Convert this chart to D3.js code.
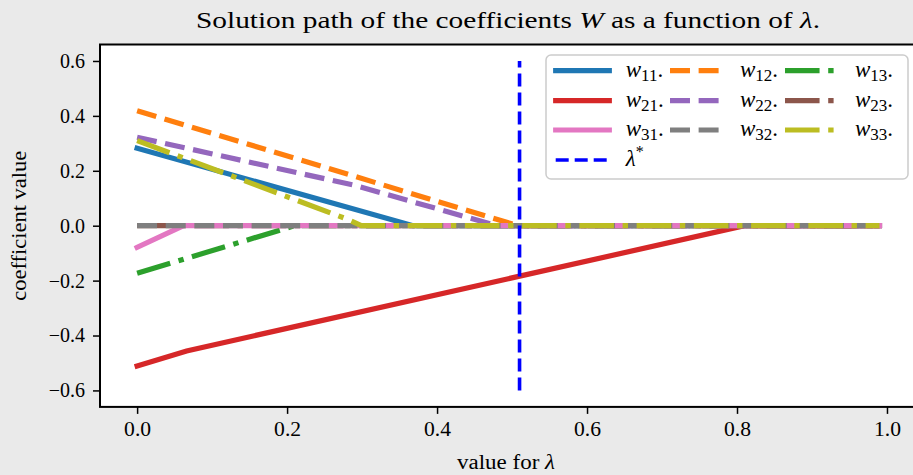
<!DOCTYPE html>
<html>
<head>
<meta charset="utf-8">
<script src="https://cdn.jsdelivr.net/npm/d3@7"></script>
<style>
  html, body { margin: 0; padding: 0; background: #eaeaea; }
  svg text { font-family: "Liberation Serif", "DejaVu Serif", serif; fill: #000; }
</style>
</head>
<body>
<svg id="chart" width="913" height="475"></svg>
<script>
// ---- data ----
const lambdaStar = 0.51;
const lambdaStarRange = [-0.6, 0.6];
const w11 = [[0, 0.282], [0.368, 0], [0.99, 0]];
const w12 = [[0, 0.419], [0.508, 0], [0.99, 0]];
const w13 = [[0, -0.173], [0.21, 0], [0.99, 0]];
const w21 = [[0, -0.511], [0.066, -0.456], [0.81, 0], [0.99, 0]];
const w22 = [[0, 0.322], [0.29, 0.147], [0.48, 0], [0.99, 0]];
const w23 = [[0, 0], [0.99, 0]];
const w31 = [[0, -0.079], [0.062, 0], [0.99, 0]];
const w32 = [[0, 0], [0.99, 0]];
const w33 = [[0, 0.31], [0.281, 0.023], [0.299, 0], [0.99, 0]];
const xTicks = [0.0, 0.2, 0.4, 0.6, 0.8, 1.0];
const yTicks = [-0.6, -0.4, -0.2, 0.0, 0.2, 0.4, 0.6];
const seriesNames = ["11", "12", "13", "21", "22", "23", "31", "32", "33"];
const seriesData = [w11, w12, w13, w21, w22, w23, w31, w32, w33];
const colors = ["#1f77b4", "#ff7f0e", "#2ca02c", "#d62728", "#9467bd", "#8c564b", "#e377c2", "#7f7f7f", "#bcbd22"];
const styles = ["solid", "dashed", "dashdot"];

// ---- layout ----
const svg = d3.select("#chart");
const L = 100, R = 916.6, T = 44.5, B = 406.9;
const x = d3.scaleLinear().domain([-0.0495, 1.0395]).range([L, R]);
const y = d3.scaleLinear().domain([-0.66, 0.66]).range([B, T]);
const lw = 5.2, ds = 5.4;
const dashFor = s => s === "dashed" ? `${3.7*ds},${1.6*ds}` : s === "dashdot" ? `${6.4*ds},${1.6*ds},${1*ds},${1.6*ds}` : null;

svg.append("rect").attr("x", L).attr("y", T).attr("width", R - L).attr("height", B - T).attr("fill", "#fff");

const g = svg.append("g");
const line = d3.line().x(d => x(d[0])).y(d => y(d[1]));
seriesData.forEach((data, i) => {
  const st = styles[i % 3];
  g.append("path").datum(data)
    .attr("d", line)
    .attr("fill", "none")
    .attr("stroke", colors[i])
    .attr("stroke-width", lw)
    .attr("stroke-linecap", st === "solid" ? "square" : "butt")
    .attr("stroke-dasharray", dashFor(st));
});
// lambda*
g.append("line")
  .attr("x1", x(lambdaStar)).attr("x2", x(lambdaStar))
  .attr("y1", y(lambdaStarRange[0])).attr("y2", y(lambdaStarRange[1]))
  .attr("stroke", "#0000ff").attr("stroke-width", 3.6)
  .attr("stroke-dasharray", "13,6");

// axes
const xAxis = svg.append("g").attr("transform", `translate(0,${B})`)
  .call(d3.axisBottom(x).tickValues(xTicks).tickFormat(d3.format(".1f")).tickSizeInner(7).tickSizeOuter(0).tickPadding(8));
const yAxis = svg.append("g").attr("transform", `translate(${L},0)`)
  .call(d3.axisLeft(y).tickValues(yTicks).tickFormat(d => d3.format(".1f")(d).replace("-", "\u2212")).tickSizeInner(7).tickSizeOuter(0).tickPadding(8));
[xAxis, yAxis].forEach(a => {
  a.select(".domain").remove();
  a.selectAll(".tick line").attr("stroke", "#000").attr("stroke-width", 1.5);
  a.selectAll(".tick text").style("font-size", "20px").style("font-family", "Liberation Serif");
});
xAxis.selectAll(".tick text").attr("textLength", 27).attr("lengthAdjust", "spacingAndGlyphs");
// spines
svg.append("rect").attr("x", L).attr("y", T).attr("width", R - L).attr("height", B - T)
  .attr("fill", "none").attr("stroke", "#000").attr("stroke-width", 2);

// title
const title = svg.append("text").attr("x", 508).attr("y", 28).attr("text-anchor", "middle").style("font-size", "24px")
  .attr("textLength", 624).attr("lengthAdjust", "spacingAndGlyphs");
title.append("tspan").text("Solution path of the coefficients ");
title.append("tspan").style("font-style", "italic").text("W");
title.append("tspan").text(" as a function of ");
title.append("tspan").style("font-style", "italic").text("λ");
title.append("tspan").text(".");

// axis labels
const xl = svg.append("text").attr("x", 506).attr("y", 469).attr("text-anchor", "middle").style("font-size", "20px")
  .attr("textLength", 98).attr("lengthAdjust", "spacingAndGlyphs");
xl.append("tspan").text("value for ");
xl.append("tspan").style("font-style", "italic").text("λ");
svg.append("text").attr("transform", `translate(26,${(T + B) / 2}) rotate(-90)`).attr("text-anchor", "middle")
  .style("font-size", "20px").attr("textLength", 150).attr("lengthAdjust", "spacingAndGlyphs").text("coefficient value");

// legend
const lg = svg.append("g");
lg.append("rect").attr("x", 546).attr("y", 55).attr("width", 362).attr("height", 124).attr("rx", 5)
  .attr("fill", "#fff").attr("fill-opacity", 0.8).attr("stroke", "#cccccc").attr("stroke-width", 1.5);
const colX = [555.7, 670, 785];
const rowY = [70.7, 100.7, 130, 160];
const hl = 53.6;
seriesData.forEach((data, i) => {
  const r = Math.floor(i / 3), c = i % 3, st = styles[c];
  lg.append("line").attr("x1", colX[c]).attr("x2", colX[c] + hl).attr("y1", rowY[r]).attr("y2", rowY[r])
    .attr("stroke", colors[i]).attr("stroke-width", lw)
    .attr("stroke-linecap", st === "solid" ? "square" : "butt")
    .attr("stroke-dasharray", dashFor(st));
  const t = lg.append("text").attr("x", colX[c] + 70).attr("y", rowY[r] + 6).style("font-size", "23px");
  t.append("tspan").style("font-style", "italic").text("w");
  t.append("tspan").attr("dy", 4).style("font-size", "17px").text(seriesNames[i]);
  t.append("tspan").attr("dy", -4).text(".");
});
lg.append("line").attr("x1", colX[0]).attr("x2", colX[0] + hl).attr("y1", rowY[3]).attr("y2", rowY[3])
  .attr("stroke", "#0000ff").attr("stroke-width", 3.6).attr("stroke-dasharray", "13,6");
const ls = lg.append("text").attr("x", colX[0] + 70).attr("y", rowY[3] + 6).style("font-size", "23px");
ls.append("tspan").style("font-style", "italic").text("λ");
ls.append("tspan").attr("dy", -9).style("font-size", "16px").text("*");
</script>
</body>
</html>
